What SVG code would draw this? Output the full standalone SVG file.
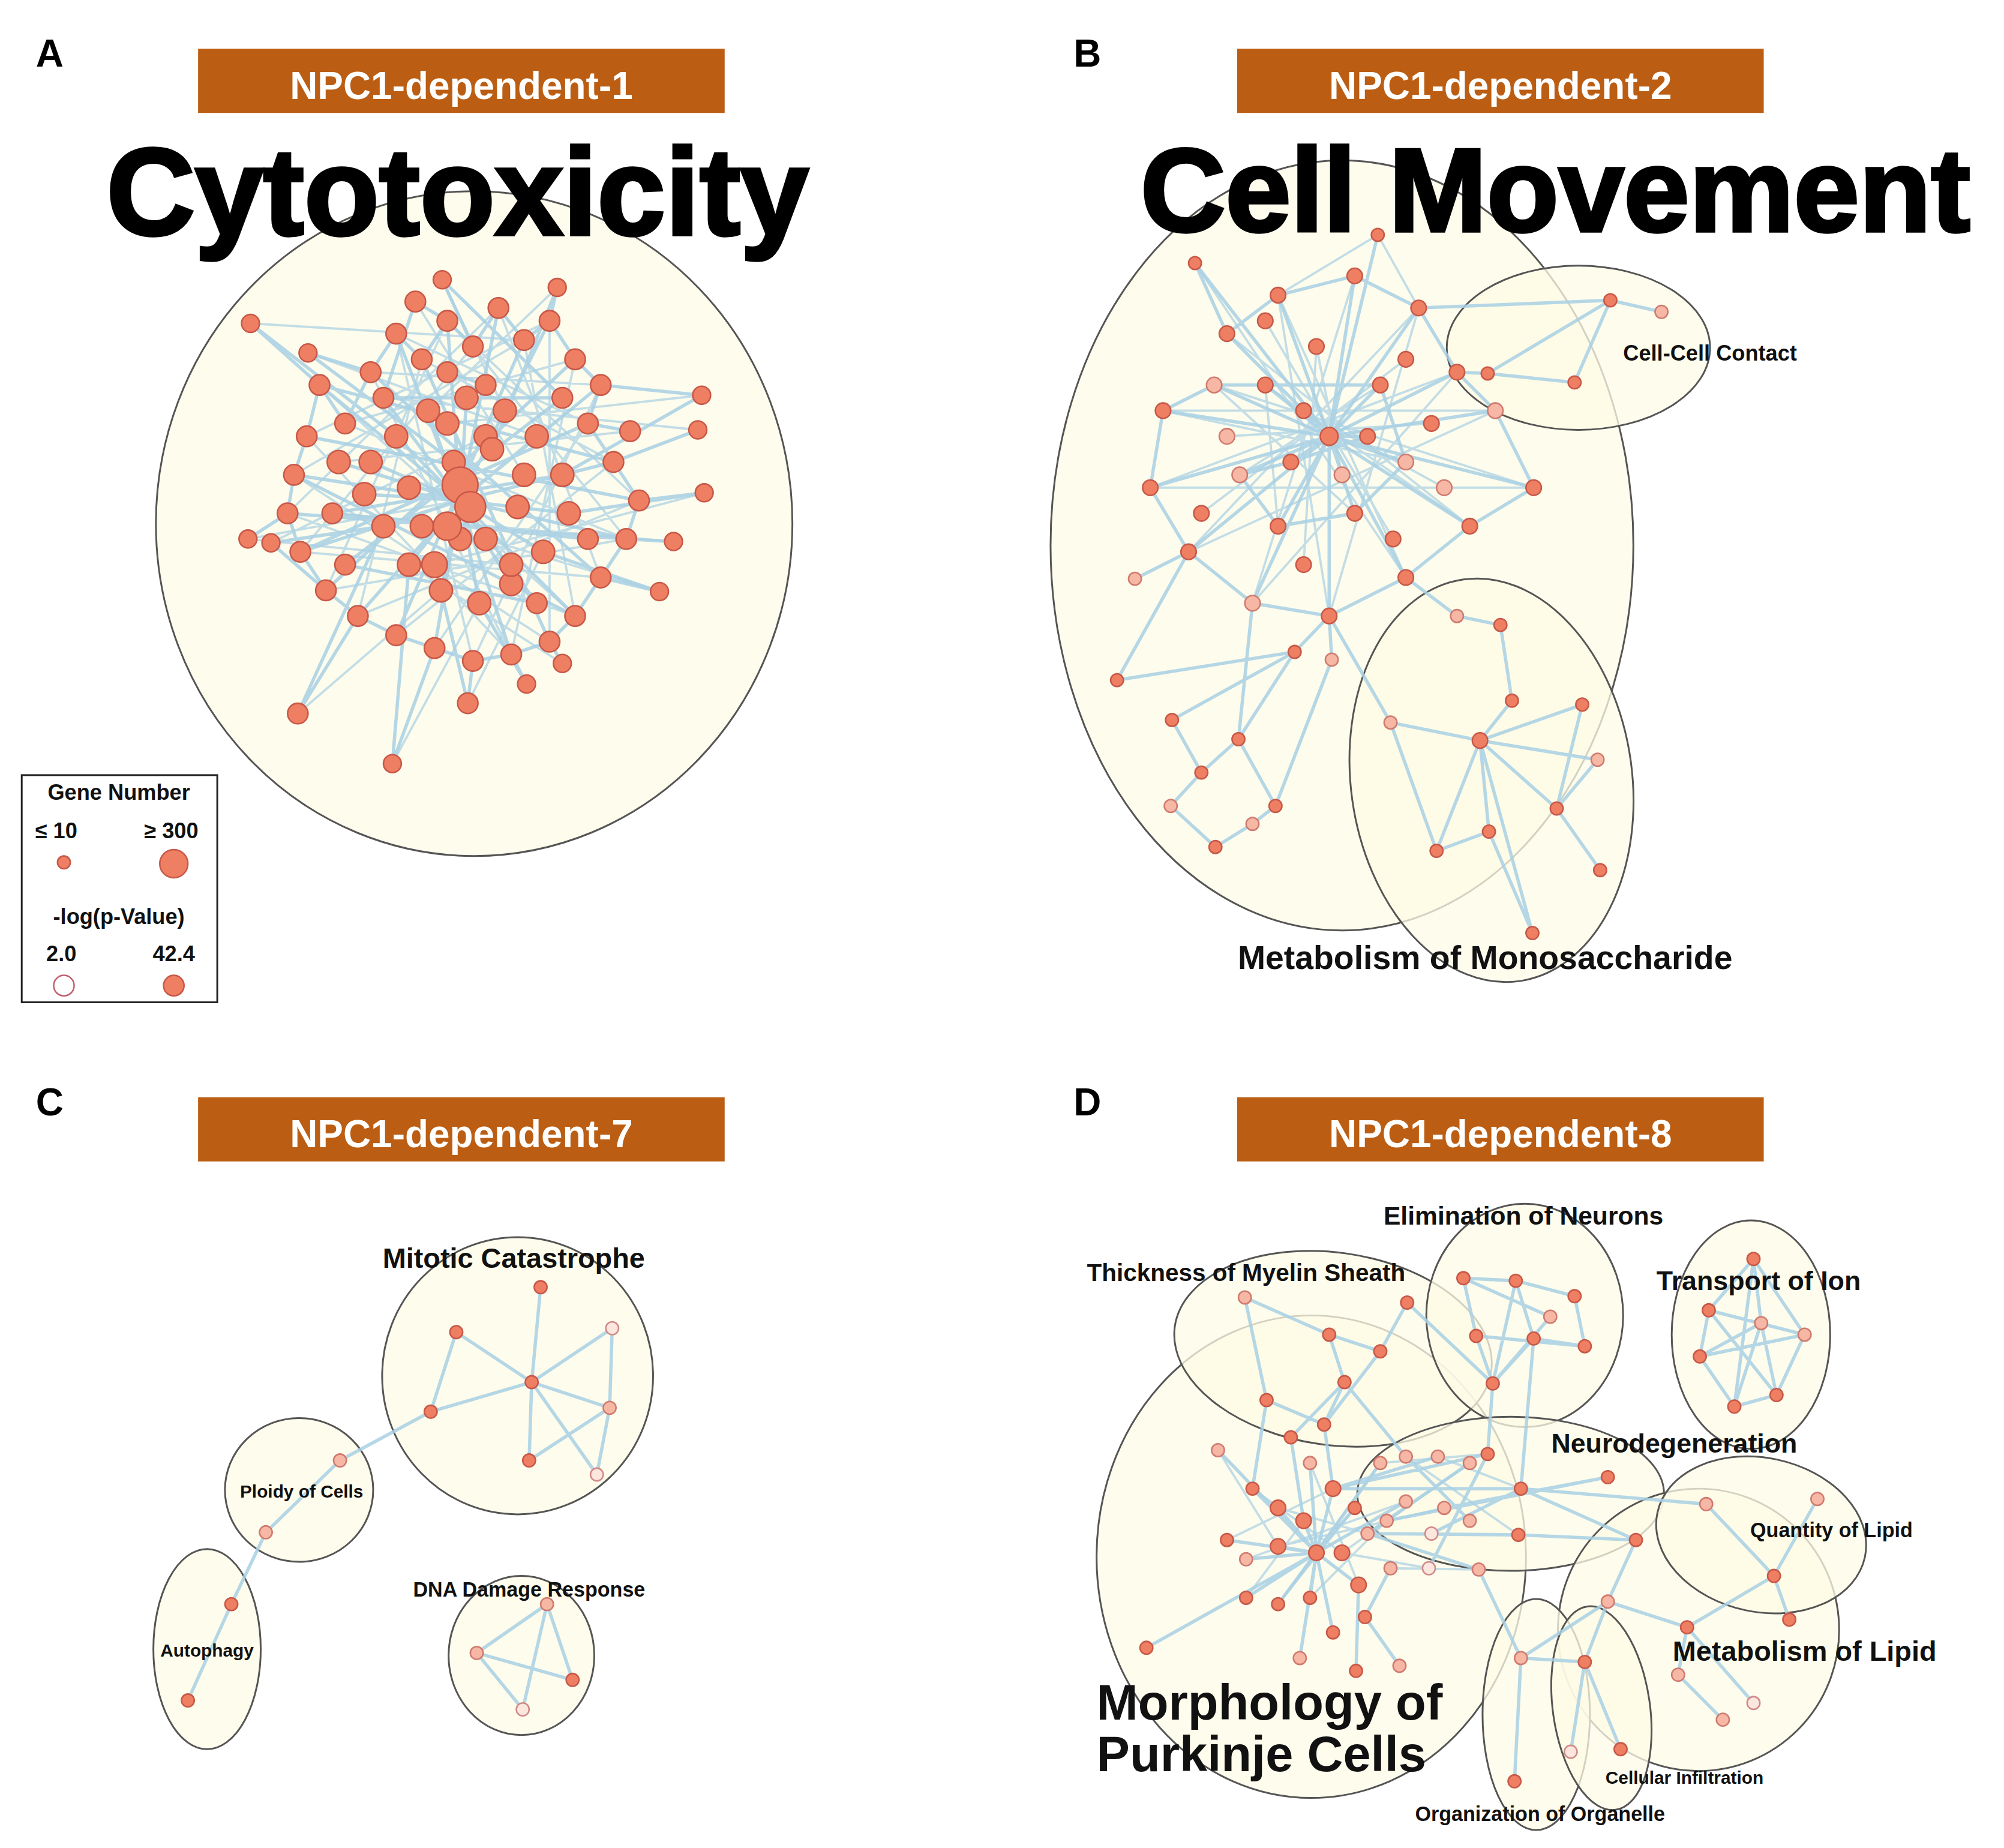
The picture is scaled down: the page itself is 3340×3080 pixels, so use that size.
<svg xmlns="http://www.w3.org/2000/svg" width="3340" height="3080" viewBox="0 0 3340 3080">
<style>
.bn{fill:#bb5e13}
.bt{fill:#fff;font:bold 30px "Liberation Sans",Arial,sans-serif;text-anchor:middle}
.pl{font:bold 30px "Liberation Sans",Arial,sans-serif}
.el{fill:#fdfbe6;fill-opacity:.75;stroke:#555;stroke-width:1.4}
.e{stroke:#a8d0e4;stroke-width:2.6;fill:none;stroke-opacity:.85;stroke-linecap:round}
.e2{stroke:#a8d0e4;stroke-width:1.8;fill:none;stroke-opacity:.7;stroke-linecap:round}
.n{fill:#ee7f62;stroke:#c85848;stroke-width:1.2}
.l{fill:#f6b8a4;stroke:#d07a70;stroke-width:1.2}
.w{fill:#fce6de;stroke:#d08a88;stroke-width:1.2}
.t{font-family:"Liberation Sans",Arial,sans-serif;font-weight:bold;text-anchor:middle;fill:#111}
.big{font-family:"Liberation Sans",Arial,sans-serif;font-weight:bold;text-anchor:middle;fill:#000;stroke:#000;stroke-width:2.5}
</style>
<rect width="3340" height="3080" fill="#fff"/>
<g transform="scale(2.1301,2.1389)">
<g id="panelA">
<text class="pl" x="28" y="52">A</text>
<rect class="bn" x="155" y="38" width="412" height="50"/><text class="bt" x="361" y="77">NPC1-dependent-1</text>
<ellipse class="el" cx="371" cy="408" rx="249" ry="259"/>
<text class="big" x="358" y="183" font-size="96">Cytotoxicity</text>
<g id="edgesA">
<path class="e" d="M360 390L250 300L270 330L290 290L310 260L330 280L350 250L370 270L390 240L410 265L430 250L450 280L470 300L460 330L480 360L500 390L490 420L470 450L450 480L430 500L400 510L370 515L340 505L310 495L280 480L255 460L235 430L225 400L230 370L240 340L250 300M360 390L310 260M360 390L350 250M360 390L390 240M360 390L430 250M360 390L470 300M360 390L480 360M360 390L490 420M360 390L450 480M360 390L400 510M360 390L340 505M360 390L280 480M360 390L235 430M360 390L230 370M360 390L265 360M360 390L285 385M360 390L300 410M360 390L320 440M360 390L345 460M360 390L375 470M360 390L400 455M360 390L425 430M360 390L445 400M360 390L440 370M360 390L420 340M360 390L395 320M360 390L365 310M360 390L335 320M360 390L310 340M360 390L290 360M196 252L250 300M241 275L290 290M325 235L350 250M346 218L370 270M436 224L430 250M493 336L460 330M549 308L470 300M546 335L480 360M551 384L500 390M527 422L490 420M516 461L470 450M440 517L430 500M412 533L400 510M366 548L370 515M307 595L340 505M233 556L280 480M194 420L225 400M212 423L255 460M300 310L440 310M260 400L460 420M270 440L420 470M350 290L380 300M300 310L420 470M440 310L270 440M260 400L440 370M240 340L500 390M250 300L480 360M230 370L450 480M290 290L470 450M330 280L430 500M410 265L310 495M450 280L255 460M225 400L490 420M235 430L460 330M212 423L300 410M549 308L440 370M551 384L445 400M196 252L310 340M241 275L355 360M436 224L385 350M325 235L300 310M346 218L440 310M516 461L425 430M366 548L345 460M412 533L375 470M307 595L320 440M233 556L300 410"/>
<path class="e2" d="M250 300L450 480M270 330L490 420M290 290L400 510M310 260L370 515M330 280L280 480M350 250L255 460M370 270L235 430M390 240L225 400M410 265L230 370M430 250L240 340M450 280L270 330M470 300L290 290M460 330L310 260M480 360L330 280M500 390L350 250M490 420L370 270M470 450L390 240M450 480L410 265M430 500L430 250M400 510L450 280M370 515L470 300M340 505L460 330M310 495L480 360M280 480L500 390M255 460L490 420M235 430L470 450M225 400L450 480M230 370L430 500M240 340L400 510M196 252L410 265M194 420L360 390M546 335L300 310M527 422L260 400M493 336L265 360M241 275L420 340M436 224L335 320M346 218L395 320M440 517L320 440M233 556L345 460M307 595L375 470M366 548L425 430M516 461L380 420M551 384L340 440M549 308L350 330M212 423L380 340M325 235L410 370M194 420L400 440"/>
</g>
<g id="nodesA">
<circle class="n" cx="196" cy="252" r="7"/><circle class="n" cx="233" cy="556" r="8"/><circle class="n" cx="307" cy="595" r="7"/><circle class="n" cx="549" cy="308" r="7"/><circle class="n" cx="546" cy="335" r="7"/><circle class="n" cx="551" cy="384" r="7"/><circle class="n" cx="516" cy="461" r="7"/><circle class="n" cx="527" cy="422" r="7"/><circle class="n" cx="493" cy="336" r="8"/><circle class="n" cx="194" cy="420" r="7"/><circle class="n" cx="212" cy="423" r="7"/><circle class="n" cx="241" cy="275" r="7"/><circle class="n" cx="436" cy="224" r="7"/><circle class="n" cx="346" cy="218" r="7"/><circle class="n" cx="325" cy="235" r="8"/><circle class="n" cx="366" cy="548" r="8"/><circle class="n" cx="412" cy="533" r="7"/><circle class="n" cx="440" cy="517" r="7"/>
<circle class="n" cx="250" cy="300" r="8"/><circle class="n" cx="270" cy="330" r="8"/><circle class="n" cx="290" cy="290" r="8"/><circle class="n" cx="310" cy="260" r="8"/><circle class="n" cx="330" cy="280" r="8"/><circle class="n" cx="350" cy="250" r="8"/><circle class="n" cx="370" cy="270" r="8"/><circle class="n" cx="390" cy="240" r="8"/><circle class="n" cx="410" cy="265" r="8"/><circle class="n" cx="430" cy="250" r="8"/><circle class="n" cx="450" cy="280" r="8"/><circle class="n" cx="470" cy="300" r="8"/><circle class="n" cx="460" cy="330" r="8"/><circle class="n" cx="480" cy="360" r="8"/><circle class="n" cx="500" cy="390" r="8"/><circle class="n" cx="490" cy="420" r="8"/><circle class="n" cx="470" cy="450" r="8"/><circle class="n" cx="450" cy="480" r="8"/><circle class="n" cx="430" cy="500" r="8"/><circle class="n" cx="400" cy="510" r="8"/><circle class="n" cx="370" cy="515" r="8"/><circle class="n" cx="340" cy="505" r="8"/><circle class="n" cx="310" cy="495" r="8"/><circle class="n" cx="280" cy="480" r="8"/><circle class="n" cx="255" cy="460" r="8"/><circle class="n" cx="235" cy="430" r="8"/><circle class="n" cx="225" cy="400" r="8"/><circle class="n" cx="230" cy="370" r="8"/><circle class="n" cx="240" cy="340" r="8"/><circle class="n" cx="265" cy="360" r="9"/><circle class="n" cx="285" cy="385" r="9"/><circle class="n" cx="300" cy="410" r="9"/><circle class="n" cx="320" cy="440" r="9"/><circle class="n" cx="345" cy="460" r="9"/><circle class="n" cx="375" cy="470" r="9"/><circle class="n" cx="400" cy="455" r="9"/><circle class="n" cx="425" cy="430" r="9"/><circle class="n" cx="445" cy="400" r="9"/><circle class="n" cx="440" cy="370" r="9"/><circle class="n" cx="420" cy="340" r="9"/><circle class="n" cx="395" cy="320" r="9"/><circle class="n" cx="365" cy="310" r="9"/><circle class="n" cx="335" cy="320" r="9"/><circle class="n" cx="310" cy="340" r="9"/><circle class="n" cx="290" cy="360" r="9"/><circle class="n" cx="320" cy="380" r="9"/><circle class="n" cx="350" cy="330" r="9"/><circle class="n" cx="380" cy="340" r="9"/><circle class="n" cx="405" cy="395" r="9"/><circle class="n" cx="360" cy="420" r="9"/><circle class="n" cx="330" cy="410" r="9"/><circle class="n" cx="355" cy="360" r="9"/><circle class="n" cx="385" cy="350" r="9"/><circle class="n" cx="410" cy="370" r="9"/><circle class="n" cx="300" cy="310" r="8"/><circle class="n" cx="440" cy="310" r="8"/><circle class="n" cx="260" cy="400" r="8"/><circle class="n" cx="270" cy="440" r="8"/><circle class="n" cx="460" cy="420" r="8"/><circle class="n" cx="420" cy="470" r="8"/><circle class="n" cx="350" cy="290" r="8"/><circle class="n" cx="380" cy="300" r="8"/><circle class="n" cx="380" cy="420" r="9"/><circle class="n" cx="340" cy="440" r="10"/><circle class="n" cx="400" cy="440" r="9"/>
<circle class="n" cx="360" cy="378" r="14"/><circle class="n" cx="368" cy="395" r="12"/><circle class="n" cx="350" cy="410" r="11"/>
</g>
<g id="legend">
<rect x="17" y="604" width="153" height="177" fill="#fff" stroke="#222" stroke-width="1.4"/>
<text class="t" x="93" y="623" font-size="17">Gene Number</text>
<text class="t" x="44" y="653" font-size="17">≤ 10</text><text class="t" x="134" y="653" font-size="17">≥ 300</text>
<circle class="n" cx="50" cy="672" r="5"/><circle class="n" cx="136" cy="673" r="11"/>
<text class="t" x="93" y="720" font-size="17">-log(p-Value)</text>
<text class="t" x="48" y="749" font-size="17">2.0</text><text class="t" x="136" y="749" font-size="17">42.4</text>
<circle cx="50" cy="768" r="8" fill="#fff" stroke="#c06070" stroke-width="1.2"/><circle class="n" cx="136" cy="768" r="8"/>
</g>
</g>
<g id="panelB">
<text class="pl" x="840" y="52">B</text>
<rect class="bn" x="968" y="38" width="412" height="50"/><text class="bt" x="1174" y="77">NPC1-dependent-2</text>
<ellipse class="el" cx="1050" cy="425" rx="228" ry="300"/>
<ellipse class="el" cx="1235" cy="271" rx="103" ry="64"/>
<ellipse class="el" cx="1167" cy="608" rx="110" ry="158" transform="rotate(-8 1167 608)"/>
<text class="big" x="1217" y="180" font-size="92">Cell Movement</text>
<g id="edgesB">
<path class="e" d="M1040 340L935 205M1040 340L1078 183M1040 340L960 260M1040 340L1000 230M1040 340L1060 215M1040 340L1110 240M1040 340L1140 290M1040 340L1170 320M1040 340L1200 380M1040 340L1150 410M1040 340L1100 450M1040 340L1040 480M1040 340L980 470M1040 340L930 430M1040 340L900 380M1040 340L910 320M1040 340L950 300M1040 340L990 300M1040 340L1080 300M1040 340L1100 360M1040 340L1060 400M1040 340L1000 410M1040 340L970 370M1040 340L1010 360M1040 340L1070 340M935 205L960 260L1000 230L1060 215L1110 240L1140 290L1170 320L1200 380L1150 410L1100 450L1040 480L980 470L930 430L900 380L910 320L950 300L990 300L1080 300L1100 360L1060 400L1000 410L970 370L1010 360L1070 340M1140 290L1164 291L1232 298L1260 234L1300 243M1164 291L1260 234M1110 240L1260 234M1013 508L874 530M1013 508L917 561M1013 508L969 576M969 576L940 602M969 576L998 628M940 602L916 628M916 628L951 660M951 660L980 642M998 628L980 642M917 561L940 602M888 451L930 430M874 530L930 430M980 470L969 576M1042 514L1040 480M1042 514L998 628M1013 508L1040 480M1100 450L1140 480M1140 480L1174 487M1158 577L1183 546M1158 577L1238 549M1158 577L1088 563M1158 577L1218 630M1158 577L1165 648M1158 577L1124 663M1158 577L1250 592M1158 577L1199 727M1218 630L1252 678M1218 630L1250 592M1088 563L1124 663M1124 663L1165 648M1183 546L1174 487M1165 648L1199 727M1088 563L1040 480M1238 549L1218 630"/>
<path class="e2" d="M935 205L1100 450M960 260L1150 410M1000 230L1040 480M1060 215L980 470M1110 240L930 430M1140 290L900 380M1170 320L910 320M1200 380L950 300M1150 410L990 300M1100 450L1000 230M1040 480L1110 240M980 470L1140 290M930 430L1170 320M900 380L1200 380M910 320L1100 360M950 300L1060 400M990 300L1000 410M1080 300L970 370M1020 320L1130 380M1030 270L1020 440M990 250L1090 420M1100 280L940 400M960 340L1120 330M1050 370L1030 270M1078 183L1000 230M1078 183L1110 240"/>
</g>
<g id="nodesB">
<circle class="n" cx="935" cy="205" r="5"/><circle class="n" cx="1078" cy="183" r="5"/><circle class="n" cx="874" cy="530" r="5"/><circle class="n" cx="917" cy="561" r="5"/><circle class="n" cx="940" cy="602" r="5"/><circle class="l" cx="916" cy="628" r="5"/><circle class="n" cx="951" cy="660" r="5"/><circle class="l" cx="980" cy="642" r="5"/><circle class="n" cx="998" cy="628" r="5"/><circle class="n" cx="969" cy="576" r="5"/><circle class="n" cx="1013" cy="508" r="5"/><circle class="l" cx="1042" cy="514" r="5"/><circle class="l" cx="888" cy="451" r="5"/>
<circle class="n" cx="1260" cy="234" r="5"/><circle class="l" cx="1300" cy="243" r="5"/><circle class="n" cx="1232" cy="298" r="5"/><circle class="n" cx="1164" cy="291" r="5"/>
<circle class="n" cx="1158" cy="577" r="6"/><circle class="n" cx="1183" cy="546" r="5"/><circle class="n" cx="1238" cy="549" r="5"/><circle class="l" cx="1088" cy="563" r="5"/><circle class="n" cx="1218" cy="630" r="5"/><circle class="n" cx="1165" cy="648" r="5"/><circle class="n" cx="1124" cy="663" r="5"/><circle class="n" cx="1252" cy="678" r="5"/><circle class="n" cx="1199" cy="727" r="5"/><circle class="l" cx="1250" cy="592" r="5"/><circle class="n" cx="1174" cy="487" r="5"/><circle class="l" cx="1140" cy="480" r="5"/>
<circle class="n" cx="960" cy="260" r="6"/><circle class="n" cx="1000" cy="230" r="6"/><circle class="n" cx="1060" cy="215" r="6"/><circle class="n" cx="1110" cy="240" r="6"/><circle class="n" cx="1140" cy="290" r="6"/><circle class="l" cx="1170" cy="320" r="6"/><circle class="n" cx="1200" cy="380" r="6"/><circle class="n" cx="1150" cy="410" r="6"/><circle class="n" cx="1100" cy="450" r="6"/><circle class="n" cx="1040" cy="480" r="6"/><circle class="l" cx="980" cy="470" r="6"/><circle class="n" cx="930" cy="430" r="6"/><circle class="n" cx="900" cy="380" r="6"/><circle class="n" cx="910" cy="320" r="6"/><circle class="l" cx="950" cy="300" r="6"/><circle class="n" cx="990" cy="300" r="6"/><circle class="n" cx="1080" cy="300" r="6"/><circle class="l" cx="1100" cy="360" r="6"/><circle class="n" cx="1060" cy="400" r="6"/><circle class="n" cx="1000" cy="410" r="6"/><circle class="l" cx="970" cy="370" r="6"/><circle class="n" cx="1010" cy="360" r="6"/><circle class="n" cx="1070" cy="340" r="6"/><circle class="n" cx="1040" cy="340" r="7"/><circle class="n" cx="1020" cy="320" r="6"/><circle class="l" cx="1050" cy="370" r="6"/><circle class="n" cx="1030" cy="270" r="6"/><circle class="n" cx="1120" cy="330" r="6"/><circle class="l" cx="960" cy="340" r="6"/><circle class="n" cx="1090" cy="420" r="6"/><circle class="n" cx="1020" cy="440" r="6"/><circle class="n" cx="940" cy="400" r="6"/><circle class="l" cx="1130" cy="380" r="6"/><circle class="n" cx="990" cy="250" r="6"/><circle class="n" cx="1100" cy="280" r="6"/>
</g>
<text class="t" x="1162" y="755" font-size="26">Metabolism of Monosaccharide</text>
<text class="t" x="1338" y="281" font-size="17">Cell-Cell Contact</text>
</g>
<g id="panelC">
<text class="pl" x="28" y="869">C</text>
<rect class="bn" x="155" y="855" width="412" height="50"/><text class="bt" x="361" y="894">NPC1-dependent-7</text>
<ellipse class="el" cx="405" cy="1072" rx="106" ry="108"/>
<ellipse class="el" cx="234" cy="1161" rx="58" ry="56"/>
<ellipse class="el" cx="162" cy="1285" rx="42" ry="78"/>
<ellipse class="el" cx="408" cy="1290" rx="57" ry="62"/>
<path class="e" d="M416 1077L357 1038M416 1077L423 1003M416 1077L479 1035M416 1077L477 1097M416 1077L414 1138M416 1077L467 1149M416 1077L337 1100M357 1038L337 1100M479 1035L477 1097L467 1149M414 1138L477 1097M337 1100L266 1138L208 1194L181 1250L147 1325M428 1250L373 1288M428 1250L448 1309M428 1250L409 1332M373 1288L409 1332M373 1288L448 1309"/>
<circle class="n" cx="423" cy="1003" r="5"/><circle class="n" cx="357" cy="1038" r="5"/><circle class="w" cx="479" cy="1035" r="5"/><circle class="n" cx="416" cy="1077" r="5"/><circle class="l" cx="477" cy="1097" r="5"/><circle class="n" cx="414" cy="1138" r="5"/><circle class="w" cx="467" cy="1149" r="5"/><circle class="n" cx="337" cy="1100" r="5"/><circle class="l" cx="266" cy="1138" r="5"/><circle class="l" cx="208" cy="1194" r="5"/><circle class="n" cx="181" cy="1250" r="5"/><circle class="n" cx="147" cy="1325" r="5"/><circle class="l" cx="428" cy="1250" r="5"/><circle class="l" cx="373" cy="1288" r="5"/><circle class="n" cx="448" cy="1309" r="5"/><circle class="w" cx="409" cy="1332" r="5"/>
<text class="t" x="402" y="988" font-size="22">Mitotic Catastrophe</text>
<text class="t" x="236" y="1167" font-size="14">Ploidy of Cells</text>
<text class="t" x="162" y="1291" font-size="14">Autophagy</text>
<text class="t" x="414" y="1244" font-size="16">DNA Damage Response</text>
</g>
<g id="panelD">
<text class="pl" x="840" y="869">D</text>
<rect class="bn" x="968" y="855" width="412" height="50"/><text class="bt" x="1174" y="894">NPC1-dependent-8</text>
<ellipse class="el" cx="1026" cy="1213" rx="168" ry="188"/>
<ellipse class="el" cx="1043" cy="1051" rx="125" ry="75" transform="rotate(8 1043 1051)"/>
<ellipse class="el" cx="1193" cy="1025" rx="77" ry="87"/>
<ellipse class="el" cx="1370" cy="1040" rx="62" ry="89"/>
<ellipse class="el" cx="1182" cy="1164" rx="120" ry="60"/>
<ellipse class="el" cx="1329" cy="1270" rx="110" ry="110"/>
<ellipse class="el" cx="1378" cy="1196" rx="83" ry="60" transform="rotate(12 1378 1196)"/>
<ellipse class="el" cx="1202" cy="1336" rx="42" ry="90"/>
<ellipse class="el" cx="1253" cy="1331" rx="38" ry="80" transform="rotate(-8 1253 1331)"/>
<path class="e" d="M1372 981L1337 1021L1330 1057L1357 1096L1390 1087L1412 1040L1372 981L1378 1031L1330 1057M1337 1021L1412 1040M1337 1021L1390 1087M1372 981L1357 1096M1378 1031L1390 1087M1378 1031L1357 1096M1412 1040L1330 1057M1145 996L1186 998L1232 1010L1240 1049L1200 1043L1168 1078L1155 1041L1145 996M1186 998L1200 1043M1155 1041L1240 1049M1213 1026L1145 996M1213 1026L1168 1078M1186 998L1168 1078M974 1011L1040 1040L1080 1053L1101 1015M974 1011L991 1091L1036 1110L1052 1077L1040 1040M1010 1120L1052 1077M1080 1053L1036 1110M1101 1015L1168 1078M1052 1077L1100 1135M1030 1210L980 1160M1030 1210L1000 1175M1030 1210L1020 1185M1030 1210L1043 1160M1030 1210L1060 1175M1030 1210L960 1200M1030 1210L975 1215M1030 1210L1000 1205M1030 1210L1063 1235M1030 1210L1025 1245M1030 1210L1000 1250M1030 1210L975 1245M1030 1210L953 1130M1030 1210L1025 1140M1030 1210L1080 1140M1030 1210L1017 1292M1030 1210L897 1284M1030 1210L1043 1272M1030 1210L1100 1170M1043 1160L1125 1135M1043 1160L1164 1133M1043 1160L1190 1160M1070 1195L1150 1140M1070 1195L1188 1196M1070 1195L1157 1223M1085 1185L1258 1151M1130 1175L1258 1151M1120 1195L1190 1160M1150 1185L1100 1135M1118 1222L1164 1133M1088 1222L1068 1260L1095 1298M1061 1302L1063 1235M1020 1185L1010 1120M991 1091L980 1160M1036 1110L1043 1160M1164 1133L1168 1078M1190 1160L1200 1043M1190 1160L1280 1200M1188 1196L1280 1200M1190 1160L1335 1172M1280 1200L1258 1248L1240 1295L1190 1292M1258 1248L1320 1268L1388 1228L1422 1168M1335 1172L1388 1228L1400 1262M1320 1268L1313 1305L1348 1340M1320 1268L1372 1327M1240 1295L1268 1363M1240 1295L1229 1365M1190 1292L1185 1388M1157 1223L1190 1292M1258 1248L1190 1292"/>
<path class="e2" d="M980 1160L1050 1210M1000 1175L1070 1195M960 1200L1043 1160M975 1245L1020 1185M1000 1250L1060 1175M1025 1245L1085 1185M953 1130L1000 1205M1025 1140L1063 1235M1080 1140L1000 1250M1100 1170L975 1215M1130 1175L1000 1205M1150 1140L1050 1210M1125 1135L1190 1160M1100 1135L1188 1196M1080 1140L1164 1133M1118 1222L1050 1210M1157 1223L1088 1222"/>
<circle class="n" cx="1372" cy="981" r="5"/><circle class="n" cx="1337" cy="1021" r="5"/><circle class="l" cx="1378" cy="1031" r="5"/><circle class="l" cx="1412" cy="1040" r="5"/><circle class="n" cx="1330" cy="1057" r="5"/><circle class="n" cx="1390" cy="1087" r="5"/><circle class="n" cx="1357" cy="1096" r="5"/>
<circle class="n" cx="1145" cy="996" r="5"/><circle class="n" cx="1186" cy="998" r="5"/><circle class="n" cx="1232" cy="1010" r="5"/><circle class="n" cx="1155" cy="1041" r="5"/><circle class="n" cx="1200" cy="1043" r="5"/><circle class="n" cx="1240" cy="1049" r="5"/><circle class="n" cx="1168" cy="1078" r="5"/><circle class="l" cx="1213" cy="1026" r="5"/>
<circle class="l" cx="974" cy="1011" r="5"/><circle class="n" cx="1101" cy="1015" r="5"/><circle class="n" cx="1040" cy="1040" r="5"/><circle class="n" cx="1080" cy="1053" r="5"/><circle class="n" cx="1052" cy="1077" r="5"/><circle class="n" cx="991" cy="1091" r="5"/><circle class="n" cx="1036" cy="1110" r="5"/><circle class="n" cx="1010" cy="1120" r="5"/>
<circle class="n" cx="980" cy="1160" r="5"/><circle class="n" cx="1000" cy="1175" r="6"/><circle class="n" cx="1020" cy="1185" r="6"/><circle class="n" cx="1043" cy="1160" r="6"/><circle class="n" cx="1060" cy="1175" r="5"/><circle class="n" cx="960" cy="1200" r="5"/><circle class="l" cx="975" cy="1215" r="5"/><circle class="n" cx="1000" cy="1205" r="6"/><circle class="n" cx="1030" cy="1210" r="6"/><circle class="n" cx="1050" cy="1210" r="6"/><circle class="l" cx="1070" cy="1195" r="5"/><circle class="n" cx="1063" cy="1235" r="6"/><circle class="n" cx="1025" cy="1245" r="5"/><circle class="n" cx="1000" cy="1250" r="5"/><circle class="n" cx="975" cy="1245" r="5"/><circle class="l" cx="953" cy="1130" r="5"/><circle class="l" cx="1025" cy="1140" r="5"/><circle class="l" cx="1080" cy="1140" r="5"/><circle class="l" cx="1100" cy="1135" r="5"/><circle class="l" cx="1125" cy="1135" r="5"/><circle class="l" cx="1150" cy="1140" r="5"/><circle class="n" cx="1164" cy="1133" r="5"/><circle class="n" cx="1190" cy="1160" r="5"/><circle class="l" cx="1130" cy="1175" r="5"/><circle class="l" cx="1100" cy="1170" r="5"/><circle class="l" cx="1085" cy="1185" r="5"/><circle class="w" cx="1120" cy="1195" r="5"/><circle class="l" cx="1150" cy="1185" r="5"/><circle class="n" cx="1188" cy="1196" r="5"/><circle class="w" cx="1118" cy="1222" r="5"/><circle class="l" cx="1157" cy="1223" r="5"/><circle class="l" cx="1088" cy="1222" r="5"/><circle class="n" cx="1068" cy="1260" r="5"/><circle class="l" cx="1095" cy="1298" r="5"/><circle class="n" cx="1061" cy="1302" r="5"/><circle class="l" cx="1017" cy="1292" r="5"/><circle class="n" cx="897" cy="1284" r="5"/><circle class="n" cx="1043" cy="1272" r="5"/>
<circle class="n" cx="1258" cy="1151" r="5"/><circle class="l" cx="1422" cy="1168" r="5"/><circle class="l" cx="1335" cy="1172" r="5"/><circle class="n" cx="1388" cy="1228" r="5"/><circle class="n" cx="1400" cy="1262" r="5"/>
<circle class="n" cx="1280" cy="1200" r="5"/><circle class="l" cx="1258" cy="1248" r="5"/><circle class="n" cx="1320" cy="1268" r="5"/><circle class="l" cx="1313" cy="1305" r="5"/><circle class="l" cx="1348" cy="1340" r="5"/><circle class="w" cx="1372" cy="1327" r="5"/><circle class="n" cx="1240" cy="1295" r="5"/>
<circle class="l" cx="1190" cy="1292" r="5"/><circle class="n" cx="1185" cy="1388" r="5"/><circle class="w" cx="1229" cy="1365" r="5"/><circle class="n" cx="1268" cy="1363" r="5"/>
<text class="t" x="1192" y="954" font-size="20">Elimination of Neurons</text>
<text class="t" x="975" y="998" font-size="19">Thickness of Myelin Sheath</text>
<text class="t" x="1376" y="1005" font-size="21">Transport of Ion</text>
<text class="t" x="1310" y="1132" font-size="21">Neurodegeneration</text>
<text class="t" x="1433" y="1198" font-size="16">Quantity of Lipid</text>
<text class="t" x="1412" y="1294" font-size="22">Metabolism of Lipid</text>
<text class="t" x="858" y="1340" font-size="39" style="text-anchor:start">Morphology of</text>
<text class="t" x="858" y="1380" font-size="39" style="text-anchor:start">Purkinje Cells</text>
<text class="t" x="1318" y="1390" font-size="14">Cellular Infiltration</text>
<text class="t" x="1205" y="1419" font-size="16">Organization of Organelle</text>
</g>
</g>
</svg>
